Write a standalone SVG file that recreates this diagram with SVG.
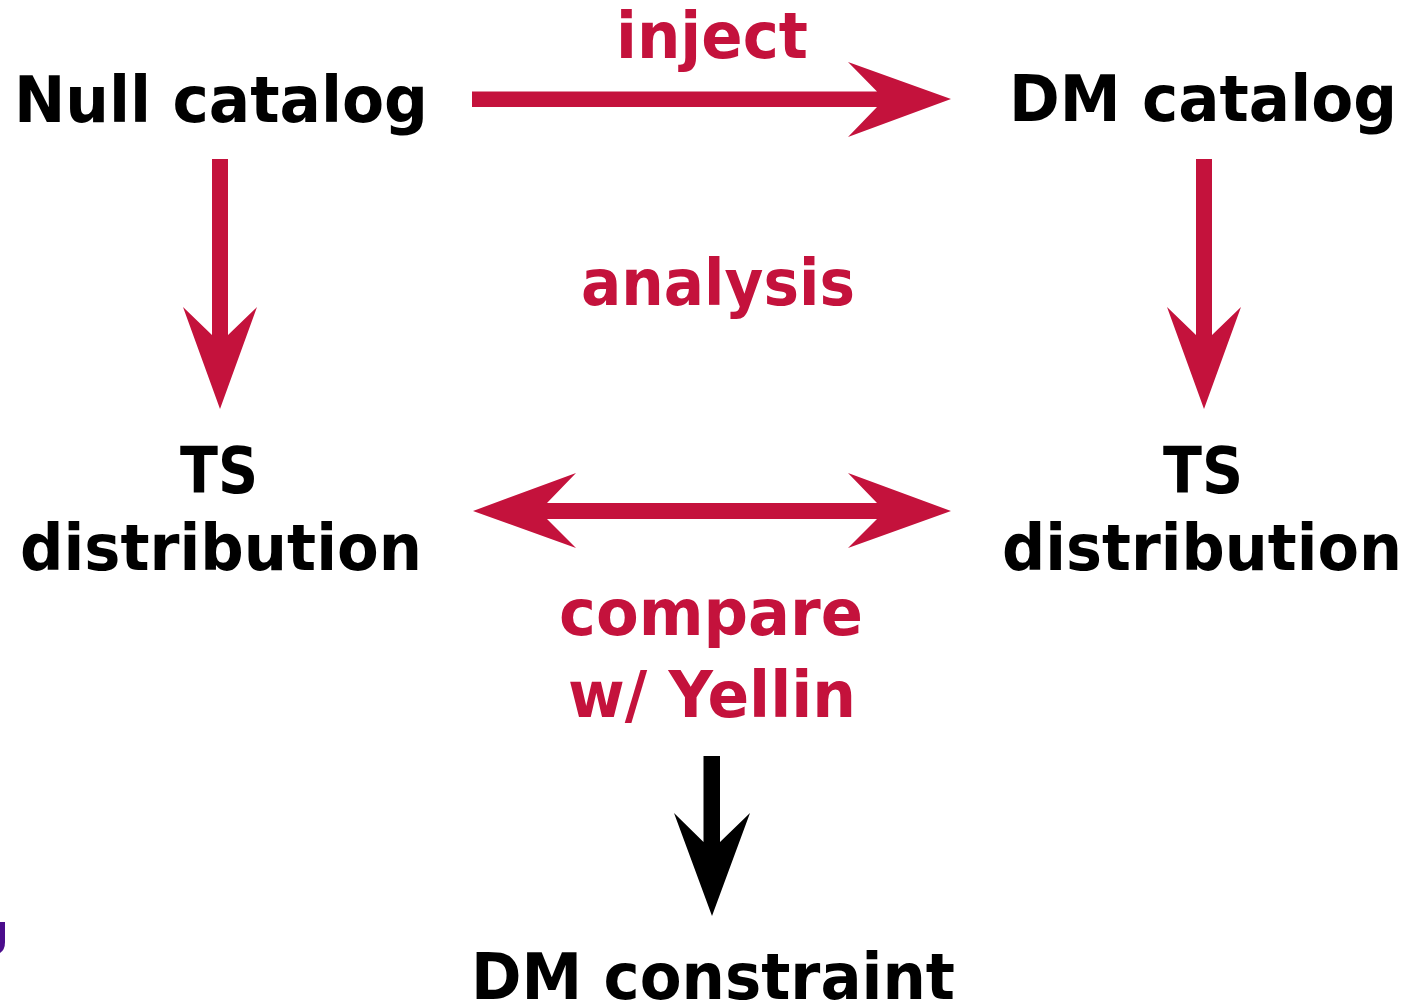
<svg xmlns="http://www.w3.org/2000/svg" width="1412" height="1005" viewBox="0 0 1412 1005">
<style>
text{font-family:"DejaVu Sans","Liberation Sans",sans-serif;font-weight:bold;font-size:64px;text-anchor:middle}
.k{fill:#000}
.r{fill:#C4123C}
.ar{fill:#C4123C}
.ab{fill:#000}
</style>
<rect width="1412" height="1005" fill="#fff"/>
<g id="connectors">
<polygon class="ar" points="472,91.5 877,91.5 848,62 951,99 848,137 877,107 472,107"/>
<polygon class="ar" points="212,159 228,159 228,335 257,307 220,409 183,307 212,335"/>
<polygon class="ar" points="1196,159 1212,159 1212,335 1241,307 1204,409 1167,307 1196,335"/>
<polygon class="ar" points="473,511 576,473 547,503 877,503 848,473 951,511 848,548 877,519 547,519 576,548"/>
<polygon class="ab" points="703.5,756 720,756 720,842 750,813 712,916 674,813 703.5,842"/>
</g>
<g id="null-catalog"><text class="k" x="221" y="122" textLength="414" lengthAdjust="spacingAndGlyphs">Null catalog</text></g>
<g id="dm-catalog"><text class="k" x="1203" y="121" textLength="388" lengthAdjust="spacingAndGlyphs">DM catalog</text></g>
<g id="inject-label"><text class="r" x="712" y="58" textLength="192" lengthAdjust="spacingAndGlyphs">inject</text></g>
<g id="analysis-label"><text class="r" x="718" y="305" textLength="274" lengthAdjust="spacingAndGlyphs">analysis</text></g>
<g id="ts-left">
<text class="k" x="219" y="493" textLength="78" lengthAdjust="spacingAndGlyphs">TS</text>
<text class="k" x="221" y="570" textLength="402" lengthAdjust="spacingAndGlyphs">distribution</text>
</g>
<g id="ts-right">
<text class="k" x="1203" y="493" textLength="80" lengthAdjust="spacingAndGlyphs">TS</text>
<text class="k" x="1202" y="570" textLength="400" lengthAdjust="spacingAndGlyphs">distribution</text>
</g>
<g id="compare-label">
<text class="r" x="711" y="635" textLength="304" lengthAdjust="spacingAndGlyphs">compare</text>
<text class="r" x="712" y="717" textLength="288" lengthAdjust="spacingAndGlyphs">w/ Yellin</text>
</g>
<g id="dm-constraint"><text class="k" x="713" y="999" textLength="484" lengthAdjust="spacingAndGlyphs">DM constraint</text></g>
<path d="M0,922 L5,922 L5,942 Q5,950 0,953 Z" fill="#4B0D8C"/>
</svg>
